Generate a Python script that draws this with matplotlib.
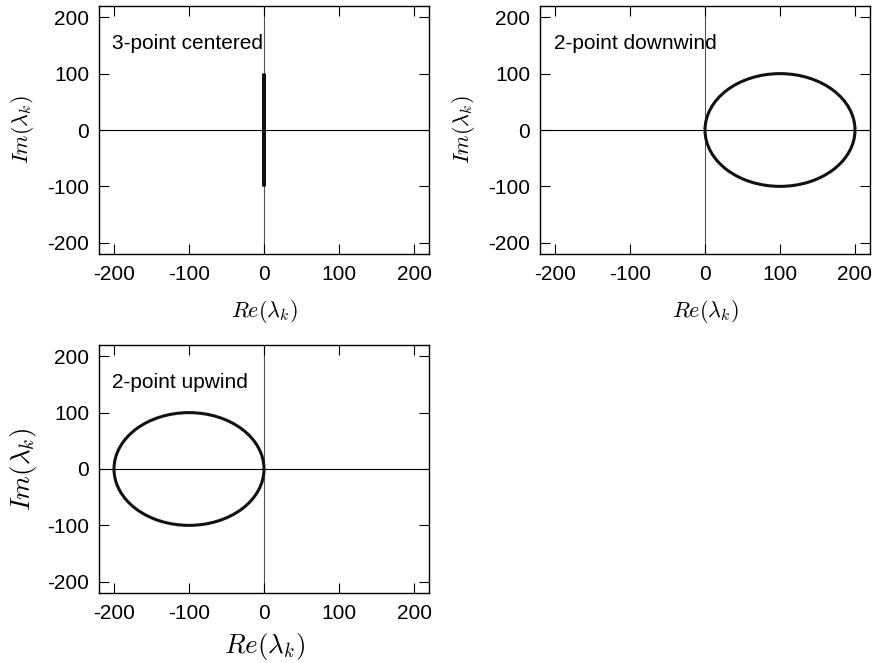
import matplotlib
matplotlib.use("Agg")
import matplotlib.pyplot as plt
from matplotlib.patches import Ellipse

plt.rcParams['font.family'] = ['Liberation Sans', 'DejaVu Sans']
plt.rcParams['mathtext.fontset'] = 'cm'
plt.rcParams['axes.unicode_minus'] = False

schemes = ["3-point centered", "2-point downwind", "2-point upwind"]
centre_re = [0, 100, -100]
semi_re = [0, 100, 100]
semi_im = [100, 100, 100]

ticks = [-200, -100, 0, 100, 200]
tick_labels = ["-200", "-100", "0", "100", "200"]
lim = (-220, 220)

W, H = 876, 663
fig = plt.figure(figsize=(W / 100, H / 100), dpi=100)

# pixel boxes (left, top, right, bottom) of each panel
boxes = [(99, 6, 429, 254), (540, 6, 870, 254), (99, 345, 429, 593)]
label_size = [16, 16, 19.5]
xpad = [10, 10, 6]
ypad = [8, 8, 6]

for i, name in enumerate(schemes):
    l, t, r, b = boxes[i]
    ax = fig.add_axes([l / W, 1 - b / H, (r - l) / W, (b - t) / H])
    ax.set_xlim(*lim)
    ax.set_ylim(*lim)
    ax.axhline(0, color='black', lw=0.8, zorder=1)
    ax.axvline(0, color='#555555', lw=0.8, zorder=1)
    ax.add_patch(Ellipse((centre_re[i], 0), 2 * semi_re[i], 2 * semi_im[i],
                         fill=False, edgecolor='#111111', lw=2.2, zorder=3))
    ax.set_xticks(ticks)
    ax.set_yticks(ticks)
    ax.set_xticklabels(tick_labels)
    ax.set_yticklabels(tick_labels)
    ax.tick_params(direction='in', length=7, width=0.8, top=True, right=True,
                   labelsize=15, colors='black')
    ax.tick_params(axis='x', pad=8)
    ax.tick_params(axis='y', pad=7)
    for s in ax.spines.values():
        s.set_linewidth(1.0)
    ax.text(-202, 153, name, fontsize=15, va='center', ha='left')
    ax.set_xlabel(r'$Re(\lambda_k)$', fontsize=label_size[i], labelpad=xpad[i])
    ax.set_ylabel(r'$Im(\lambda_k)$', fontsize=label_size[i], labelpad=ypad[i])

fig.savefig("out.png", dpi=100)
